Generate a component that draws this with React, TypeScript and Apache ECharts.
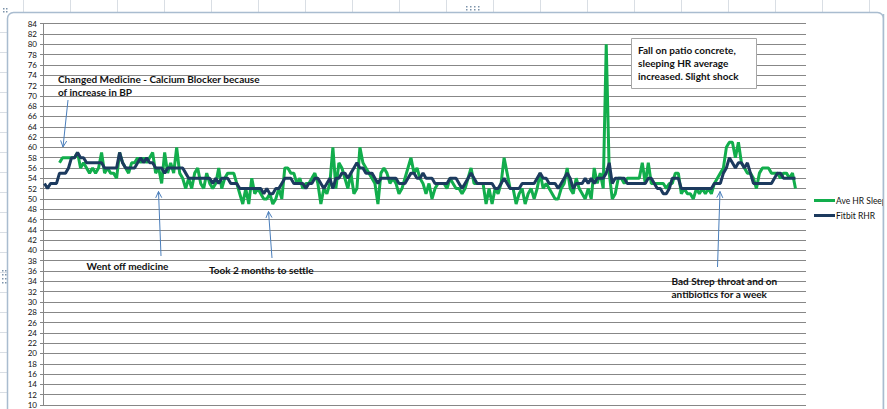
import React, { useEffect, useRef } from "react";
import * as echarts from "echarts";

// 254 daily categories (last few empty)
const days: string[] = Array.from({ length: 254 }, (_, i) => `Day ${i + 1}`);

const aveHrSleep: (number | null)[] = [
  null, null, null, null, null, 57, 58, 58, 58, 58,
  58, 59, 56, 57, 56, 55, 56, 55, 56, 59,
  55, 56, 55, 55, 54, 59, 57, 56, 55, 57,
  57, 58, 57, 58, 57, 58, 59, 55, 56, 53,
  59, 55, 57, 55, 60, 55, 54, 52, 54, 52,
  55, 56, 53, 52, 55, 53, 52, 53, 56, 52,
  54, 55, 55, 55, 53, 51, 49, 52, 49, 54,
  51, 52, 51, 50, 50, 51, 49, 50, 52, 50,
  56, 56, 55, 55, 53, 54, 52, 53, 53, 54,
  55, 53, 49, 52, 51, 53, 60, 52, 57, 56,
  54, 52, 55, 51, 52, 60, 57, 56, 55, 54,
  53, 49, 55, 56, 55, 53, 54, 53, 51, 52,
  54, 56, 58, 55, 56, 54, 53, 51, 53, 50,
  52, 53, 53, 53, 52, 54, 53, 52, 52, 51,
  52, 54, 56, 53, 53, 53, 53, 49, 52, 49,
  52, 51, 53, 58, 55, 52, 52, 49, 51, 52,
  49, 51, 52, 50, 52, 55, 52, 53, 52, 51,
  50, 50, 52, 53, 56, 52, 51, 54, 52, 51,
  50, 52, 50, 56, 53, 55, 52, 80, 55, 50,
  51, 54, 54, 53, 54, 54, 54, 54, 54, 57,
  53, 57, 53, 53, 53, 53, 53, 52, 53, 53,
  55, 55, 51, 52, 51, 51, 50, 52, 51, 52,
  51, 52, 51, 53, 54, 55, 56, 60, 61, 61,
  58, 61, 57, 56, 55, 55, 54, 52, 55, 56,
  56, 56, 55, 55, 55, 54, 55, 55, 54, 55,
  52,
];

const fitbitRhr: number[] = [
  53, 52, 53, 53, 53, 55, 55, 55, 56, 58,
  58, 59, 58, 58, 57, 57, 57, 57, 57, 57,
  56, 56, 56, 56, 56, 59, 57, 56, 56, 56,
  56, 57, 58, 57, 58, 57, 57, 56, 56, 56,
  55, 56, 56, 56, 56, 56, 56, 55, 54, 54,
  54, 54, 54, 54, 54, 54, 53, 54, 53, 54,
  54, 54, 53, 53, 53, 52, 52, 52, 52, 52,
  52, 52, 52, 51, 52, 51, 51, 52, 52, 53,
  54, 54, 54, 53, 53, 53, 53, 52, 53, 53,
  54, 54, 53, 52, 53, 54, 52, 54, 54, 55,
  55, 54, 55, 56, 57, 56, 56, 55, 55, 55,
  54, 53, 54, 54, 54, 54, 54, 54, 53, 53,
  53, 54, 55, 55, 54, 54, 55, 54, 54, 54,
  53, 53, 53, 53, 53, 54, 54, 54, 53, 52,
  53, 54, 55, 54, 53, 53, 53, 53, 53, 53,
  52, 52, 53, 54, 53, 52, 52, 52, 52, 53,
  53, 53, 53, 53, 54, 55, 54, 54, 53, 53,
  53, 52, 53, 54, 55, 54, 52, 53, 53, 53,
  54, 53, 54, 53, 54, 54, 54, 55, 57, 53,
  54, 54, 54, 54, 53, 53, 53, 53, 53, 53,
  53, 54, 54, 53, 52, 52, 51, 51, 52, 54,
  54, 54, 52, 52, 52, 52, 52, 52, 52, 52,
  52, 52, 52, 53, 53, 53, 55, 56, 58, 57,
  56, 57, 57, 56, 57, 55, 53, 53, 53, 53,
  53, 53, 53, 54, 55, 55, 54, 54, 54, 54,
  54,
];

const yMin = 10;
const yMax = 84;
const yStep = 2;

const notes = {
  medicine: ["Changed Medicine - Calcium Blocker because", "of increase in BP"],
  wentOff: ["Went off medicine"],
  settle: ["Took 2 months to settle"],
  fall: ["Fall on patio concrete,", "sleeping HR average", "increased. Slight shock"],
  strep: ["Bad Strep throat and on", "antibiotics for a week"],
};

const ARROW = "#4a7ebb";
const FONT = "Lato";

function arrow(x1: number, y1: number, x2: number, y2: number): any[] {
  const ang = Math.atan2(y2 - y1, x2 - x1);
  const L = 7;
  const a = Math.PI / 7;
  const p1 = [x2 - L * Math.cos(ang - a), y2 - L * Math.sin(ang - a)];
  const p2 = [x2 - L * Math.cos(ang + a), y2 - L * Math.sin(ang + a)];
  return [
    { type: "line", z: 50, shape: { x1, y1, x2, y2 }, style: { stroke: ARROW, lineWidth: 1 } },
    { type: "polyline", z: 50, shape: { points: [p1, [x2, y2], p2] }, style: { stroke: ARROW, lineWidth: 1, fill: null } },
  ];
}

function textLines(lines: string[], x: number, y: number, lh: number): any[] {
  return lines.map((t, i) => ({
    type: "text",
    z: 60,
    x,
    y: y + i * lh,
    style: {
      text: t,
      fill: "#111",
      fontSize: 10,
      fontWeight: "bold",
      fontFamily: FONT,
      align: "left",
      verticalAlign: "middle",
    },
  }));
}

function sheetBackground(): any[] {
  const els: any[] = [];
  els.push({ type: "rect", z: -20, shape: { x: 0, y: 0, width: 887, height: 409 }, style: { fill: "#ffffff" } });
  for (let x = 23; x < 887; x += 47) {
    els.push({ type: "line", z: -19, shape: { x1: x + 0.5, y1: 0, x2: x + 0.5, y2: 12 }, style: { stroke: "#d9dee4", lineWidth: 1 } });
  }
  for (let y = 32; y < 409; y += 20) {
    els.push({ type: "line", z: -19, shape: { x1: 0, y1: y + 0.5, x2: 7, y2: y + 0.5 }, style: { stroke: "#d9dee4", lineWidth: 1 } });
  }
  els.push({
    type: "rect",
    z: -15,
    shape: { x: 7.5, y: 12.5, width: 876, height: 420, r: 6 },
    style: { fill: "#ffffff", stroke: "#a9bccf", lineWidth: 1.5 },
  });
  return els;
}

function overlays(): any[] {
  const els: any[] = [];
  els.push({ type: "rect", z: 90, shape: { x: 884, y: 0, width: 3, height: 409 }, style: { fill: "#ffffff" } });
  els.push({ type: "line", z: 91, shape: { x1: 883.5, y1: 14, x2: 883.5, y2: 409 }, style: { stroke: "#a9bccf", lineWidth: 1.5 } });
  for (let i = 0; i < 4; i++) {
    for (let j = 0; j < 2; j++) {
      els.push({ type: "rect", z: 92, shape: { x: 466 + i * 4, y: 6 + j * 3, width: 1.5, height: 1.5 }, style: { fill: "#7d93aa" } });
      els.push({ type: "rect", z: 92, shape: { x: 2 + j * 3, y: 270 + i * 4, width: 1.5, height: 1.5 }, style: { fill: "#7d93aa" } });
    }
  }
  for (let j = 0; j < 2; j++) {
    for (let i = 0; i < 2; i++) {
      els.push({ type: "rect", z: 92, shape: { x: 3 + i * 3, y: 8 + j * 3, width: 1.5, height: 1.5 }, style: { fill: "#7d93aa" } });
    }
  }
  els.push({
    type: "rect",
    z: 55,
    shape: { x: 631.5, y: 38.5, width: 125, height: 50 },
    style: { fill: "#ffffff", stroke: "#a6a6a6", lineWidth: 1 },
  });
  els.push(...textLines(notes.fall, 638, 49.5, 13));
  els.push(...textLines(notes.medicine, 58, 79, 13.3));
  els.push(...textLines(notes.wentOff, 86.5, 266, 13));
  els.push(...textLines(notes.settle, 209, 270, 13));
  els.push(...textLines(notes.strep, 671.5, 281, 13.3));
  els.push(...arrow(68, 100, 63, 147));
  els.push(...arrow(161, 256, 158.5, 191.5));
  els.push(...arrow(272, 258, 268.5, 211.5));
  els.push(...arrow(717.5, 267, 720, 191.5));
  return els;
}

export default function App() {
  const ref = useRef<HTMLDivElement>(null);
  useEffect(() => {
    if (!ref.current) return;
    const chart = echarts.init(ref.current, undefined, { renderer: "svg" });
    chart.setOption({
      animation: false,
      backgroundColor: "#ffffff",
      grid: { left: 43, top: 23.7, width: 763, height: 386.1, containLabel: false },
      legend: {
        orient: "vertical",
        left: 809,
        top: 191,
        itemWidth: 21,
        itemHeight: 3,
        itemGap: 6,
        icon: "rect",
        textStyle: { fontSize: 8.5, fontFamily: FONT, color: "#111", padding: [0, 0, 0, -4] },
        data: ["Ave HR Sleep", "Fitbit RHR"],
      },
      xAxis: {
        type: "category",
        data: days,
        boundaryGap: true,
        axisLine: { show: false },
        axisTick: { show: false },
        axisLabel: { show: false },
        splitLine: { show: false },
      },
      yAxis: {
        type: "value",
        min: yMin,
        max: yMax,
        interval: yStep,
        axisLine: { show: true, lineStyle: { color: "#878787", width: 1 } },
        axisTick: { show: true, length: 3, lineStyle: { color: "#878787" } },
        axisLabel: { fontSize: 8, fontFamily: FONT, color: "#111", margin: 6 },
        splitLine: { show: true, lineStyle: { color: "#878787", width: 1 } },
      },
      graphic: { elements: [...sheetBackground(), ...overlays()] },
      series: [
        {
          name: "Ave HR Sleep",
          type: "line",
          data: aveHrSleep,
          symbol: "none",
          itemStyle: { color: "#12ad4c" },
          lineStyle: { color: "#12ad4c", width: 3 },
          z: 3,
        },
        {
          name: "Fitbit RHR",
          type: "line",
          data: fitbitRhr,
          symbol: "none",
          itemStyle: { color: "#1c3a5e" },
          lineStyle: { color: "#1c3a5e", width: 3 },
          z: 4,
        },
      ],
    });
    return () => chart.dispose();
  }, []);
  return (
    <div
      ref={ref}
      style={{ position: "absolute", left: 0, top: 0, width: 887, height: 409 }}
    />
  );
}
